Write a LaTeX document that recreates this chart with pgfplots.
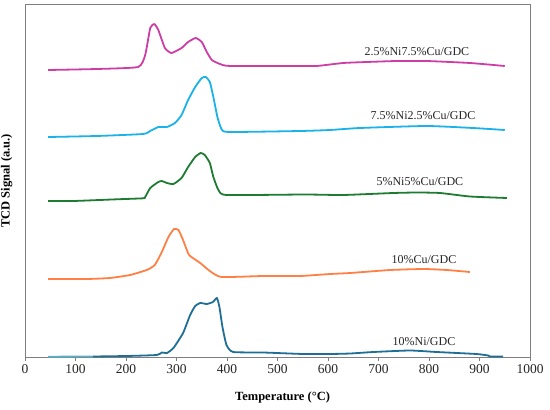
\documentclass[border=0pt]{standalone}
\usepackage{fontspec}
\setmainfont{Liberation Serif}
\usepackage{pgfplots}
\pgfplotsset{compat=1.18}
\definecolor{cpink}{HTML}{CC3DA6}
\definecolor{ccyan}{HTML}{1AB2E8}
\definecolor{cgreen}{HTML}{1E7B32}
\definecolor{corange}{HTML}{FF7F45}
\definecolor{cnavy}{HTML}{1F6E96}
\definecolor{clight}{HTML}{5AB0C8}
\definecolor{cframe}{HTML}{7F7F7F}
\begin{document}
\begin{tikzpicture}
\begin{axis}[name=ax,
  width=505pt, height=352pt, scale only axis,
  xmin=0, xmax=1000, ymin=0, ymax=352,
  xtick={0,100,...,1000}, ytick=\empty,
  tick align=outside, xtick pos=bottom,
  major tick length=4pt,
  axis line style={cframe, line width=1pt},
  every tick/.style={cframe, line width=0.8pt},
  /pgf/number format/assume math mode=true,
  /pgf/number format/1000 sep={},
  xticklabel style={font=\fontsize{13.5}{15}\selectfont, text=black!85},
  xlabel={\textbf{Temperature (°C)}},
  ylabel={\textbf{TCD Signal (a.u.)}},
  xlabel style={font=\fontsize{12.5}{15}\selectfont, at={(axis description cs:0.51,0)}, anchor=center, yshift=-40pt},
  ylabel style={font=\fontsize{12.5}{15}\selectfont, at={(axis description cs:-0.018,0.5)}, anchor=south},
  clip=false,
  every axis plot/.append style={line width=1.8pt, line join=round, smooth, tension=0.3},
]
% pink 2.5%Ni7.5%Cu/GDC
\addplot[cpink] coordinates {
(46,287) (142,288) (224,290) (238,302) (248,329) (256,333) (264,327) (277,309)
(290,304) (310,309) (323,315) (338,319) (350,315) (360,305) (370,297) (386,293)
(406,291) (545,291) (578,291) (630,294) (677,295) (736,296) (795,296) (881,294) (950,291)};
% cyan 7.5%Ni2.5%Cu/GDC
\addplot[ccyan] coordinates {
(46,220) (142,221) (234,223) (248,226) (264,230) (281,230) (297,234) (310,242)
(323,257) (337,270) (350,279) (358,280) (366,275) (373,260) (381,240) (389,228)
(403,225) (545,226) (604,227) (663,229) (795,231) (887,229) (950,227)};
% green 5%Ni5%Cu/GDC
\addplot[cgreen] coordinates {
(46,156) (96,156) (182,157.7) (234,158.7) (238,160) (248,169) (264,175) (271,176)
(281,174) (294,173) (310,179) (323,190) (337,200) (348,204) (356,202) (366,194)
(373,180) (383,167) (399,162) (554,162.5) (630,162) (729,164) (776,164.5) (822,164)
(881,160.5) (954,159)};
% orange 10%Cu/GDC
\addplot[corange] coordinates {
(46,78) (122,78) (168,79) (208,82) (241,87) (257,92) (271,105) (284,120) (295,128)
(304,127) (313,117) (325,102) (347,94) (366,86) (389,80) (472,81) (545,81) (604,83)
(644,84) (723,87) (789,88) (835,87) (881,85)};
% navy 10%Ni/GDC
\addplot[clight] coordinates {(46,0.3) (135,0.5)};
\addplot[cnavy] coordinates {
(135,0.5) (201,1) (261,2) (271,4.5) (281,4) (294,9) (313,24) (327,42) (337,51)
(347,54) (360,53) (372,55) (380,59) (385,50) (391,30) (399,12) (412,5) (472,4.5)
(551,3) (604,3) (644,3.5) (690,5) (762,6.5) (815,5) (894,3) (917,1.5) (921,0.5) (947,0.5)};
\begin{scope}[every node/.style={font=\fontsize{12}{14}\selectfont, text=black!85}]
\node at (axis cs:776,305) {2.5\%Ni7.5\%Cu/GDC};
\node at (axis cs:788,241) {7.5\%Ni2.5\%Cu/GDC};
\node at (axis cs:782,175) {5\%Ni5\%Cu/GDC};
\node at (axis cs:790,97) {10\%Cu/GDC};
\node at (axis cs:790,15) {10\%Ni/GDC};
\end{scope}
\end{axis}
\pgfresetboundingbox
\path[use as bounding box] ([xshift=-25pt,yshift=-52pt]ax.south west) rectangle ([xshift=20pt,yshift=5pt]ax.north east);
\end{tikzpicture}
\end{document}
